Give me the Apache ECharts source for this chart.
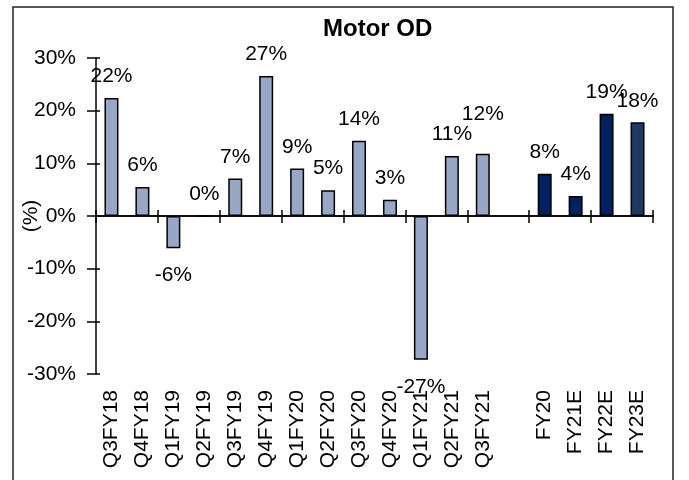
<!DOCTYPE html>
<html>
<head>
<meta charset="utf-8">
<script src="https://cdn.jsdelivr.net/npm/echarts@6/dist/echarts.min.js"></script>
<style>
  html, body { margin: 0; padding: 0; background: #fff; }
  #chart { width: 689px; height: 480px; }
</style>
</head>
<body>
<div id="chart"></div>
<script>
const quarters = ['Q3FY18', 'Q4FY18', 'Q1FY19', 'Q2FY19', 'Q3FY19', 'Q4FY19', 'Q1FY20',
  'Q2FY20', 'Q3FY20', 'Q4FY20', 'Q1FY21', 'Q2FY21', 'Q3FY21']
const quarterValues = [22.4, 5.5, -6.1, 0, 7.1, 26.6, 9.0, 4.9, 14.3, 3.1, -27.3, 11.4, 11.8]
const years = ['FY20', 'FY21E', 'FY22E', 'FY23E']
const yearValues = [8.0, 3.8, 19.4, 17.8]
const yTicks = [-30, -20, -10, 0, 10, 20, 30]

const FONT = 'Liberation Sans, Arial, sans-serif'
const FS = 21
const LIGHT = '#98a7c5'
const NAVY = '#002060'
const NAVY_2 = '#203864'

// gap slot between quarterly and annual bars
const categories = quarters.concat([''], years)

const barData = []
quarters.forEach((q, i) => {
  const item = { value: quarterValues[i], itemStyle: { color: LIGHT } }
  // this label sits higher in the original so it clears its neighbour
  if (q === 'Q3FY21') item.label = { distance: 29 }
  barData.push(item)
})
barData.push({ value: '-' })
years.forEach((y, i) => {
  barData.push({ value: yearValues[i], itemStyle: { color: i === years.length - 1 ? NAVY_2 : NAVY } })
})
barData.forEach(d => {
  if (typeof d.value === 'number' && d.value < 0) {
    d.label = { position: 'bottom', distance: 17 }
  }
})

const axisLine = { lineStyle: { color: '#000', width: 1.5 } }

const chart = echarts.init(document.getElementById('chart'), null, { renderer: 'canvas' })

chart.setOption({
  backgroundColor: '#fff',
  animation: false,
  textStyle: { fontFamily: FONT },
  title: {
    text: 'Motor OD',
    left: 318,
    top: 12,
    textStyle: { fontFamily: FONT, fontSize: 24, fontWeight: 'bold', color: '#000' },
  },
  grid: { left: 96, right: 36, top: 58, bottom: 106, outerBoundsMode: 'none' },
  graphic: [
    {
      type: 'rect',
      shape: { x: 13, y: 7, width: 660, height: 490 },
      style: { fill: 'none', stroke: '#222', lineWidth: 1.5 },
      silent: true,
    },
  ],
  xAxis: [
    {
      // zero line, ticks going down
      type: 'category',
      data: categories,
      position: 'bottom',
      axisLine: { onZero: true, ...axisLine },
      axisTick: { show: true, length: 7, lineStyle: { color: '#000', width: 1.5 } },
      axisLabel: { show: false },
    },
    {
      // zero line, ticks going up
      type: 'category',
      data: categories,
      position: 'top',
      axisLine: { onZero: true, ...axisLine },
      axisTick: { show: true, length: 6, lineStyle: { color: '#000', width: 1.5 } },
      axisLabel: { show: false },
    },
    {
      // labels at the bottom of the plot
      type: 'category',
      data: categories,
      position: 'bottom',
      axisLine: { show: false, onZero: false },
      axisTick: { show: false },
      axisLabel: {
        rotate: 90,
        margin: 16,
        interval: 0,
        color: '#000',
        fontSize: FS,
        fontFamily: FONT,
      },
    },
  ],
  yAxis: [
    {
      type: 'value',
      min: -30,
      max: 30,
      interval: 10,
      name: '(%)',
      nameLocation: 'middle',
      nameRotate: 90,
      nameGap: 54,
      nameMoveOverlap: false,
      nameTextStyle: { fontSize: FS, color: '#000', fontFamily: FONT },
      axisLine: { show: true, ...axisLine },
      axisTick: { show: true, length: 9, lineStyle: { color: '#000', width: 1.5 } },
      axisLabel: {
        margin: 20,
        color: '#000',
        fontSize: FS,
        fontFamily: FONT,
        formatter: v => (yTicks.includes(v) ? v + '%' : ''),
      },
      splitLine: { show: false },
    },
    {
      // short inner part of the crossing ticks
      type: 'value',
      min: -30,
      max: 30,
      interval: 10,
      position: 'left',
      offset: 0,
      axisLine: { show: false },
      axisTick: { show: true, inside: true, length: 4, lineStyle: { color: '#000', width: 1.5 } },
      axisLabel: { show: false },
      splitLine: { show: false },
    },
  ],
  series: [
    {
      type: 'bar',
      xAxisIndex: 0,
      yAxisIndex: 0,
      barWidth: 14,
      data: barData,
      itemStyle: { borderColor: '#000', borderWidth: 1.5 },
      label: {
        show: true,
        position: 'top',
        distance: 11,
        color: '#000',
        fontSize: FS,
        fontFamily: FONT,
        formatter: p => Math.round(p.value) + '%',
      },
    },
  ],
})
</script>
</body>
</html>
